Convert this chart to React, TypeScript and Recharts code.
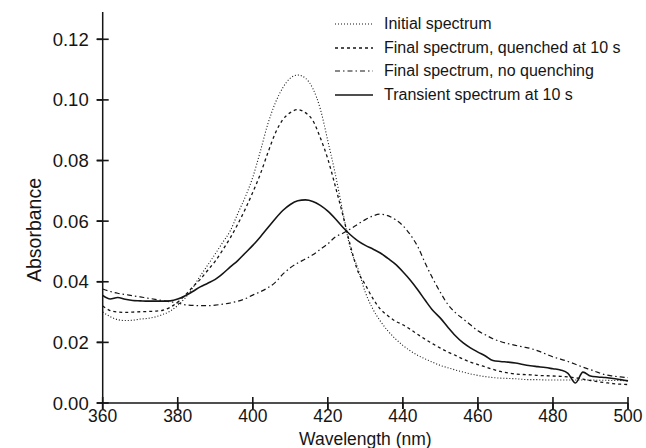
import { LineChart, Line, XAxis, YAxis, Legend } from "recharts";

const ink = "#151515";
const font = "'Liberation Sans', Arial, Helvetica, sans-serif";

// wavelength grid (nm)
const wavelengths = [
  360, 362, 364, 366, 368, 370, 372, 374, 376, 378,
  380, 382, 384, 386, 388, 390, 392, 394, 396, 398,
  400, 402, 404, 406, 408, 410, 412, 414, 416, 418,
  420, 422, 424, 426, 428, 430, 432, 434, 436, 438,
  440, 442, 444, 446, 448, 450, 452, 454, 456, 458,
  460, 462, 464, 466, 468, 470, 472, 474, 476, 478,
  480, 482, 484, 486, 488, 490, 492, 494, 496, 498,
  500,
];

const initialSpectrum = [
  0.030, 0.0285, 0.0275, 0.0272, 0.0273, 0.0277, 0.0279, 0.0284, 0.0292, 0.0303,
  0.0322, 0.0347, 0.038, 0.0419, 0.0455, 0.0492, 0.053, 0.0568, 0.0625, 0.068,
  0.0745, 0.083, 0.092, 0.099, 0.104, 0.1072, 0.1082, 0.1072, 0.1038, 0.097,
  0.0865, 0.0755, 0.063, 0.051, 0.0445, 0.0365, 0.031, 0.027, 0.0238, 0.0212,
  0.019, 0.0172, 0.0157, 0.0145, 0.0134, 0.0124, 0.0116, 0.0109, 0.0102, 0.0096,
  0.0091, 0.0087, 0.0084, 0.0082, 0.0081, 0.008, 0.0078, 0.0077, 0.0077, 0.0076,
  0.0076, 0.0076, 0.0076, 0.0076, 0.0076, 0.0076, 0.0075, 0.0075, 0.0074, 0.0074,
  0.0073,
];

const quenched10s = [
  0.032, 0.0305, 0.030, 0.0299, 0.030, 0.0301, 0.0302, 0.0303, 0.0306, 0.0316,
  0.0333, 0.0356, 0.0383, 0.0408, 0.0438, 0.0468, 0.0505, 0.0545, 0.059, 0.064,
  0.0695, 0.0755, 0.0825, 0.089, 0.0935, 0.0958, 0.0968, 0.0958, 0.0932, 0.0875,
  0.0805, 0.0715, 0.062, 0.052, 0.0435, 0.039, 0.0345, 0.031, 0.0288, 0.027,
  0.0258, 0.0243, 0.0226, 0.021, 0.0195, 0.0181, 0.0168, 0.0157, 0.0145, 0.0135,
  0.0127, 0.0119, 0.0111, 0.0104, 0.0099, 0.0096, 0.0094, 0.0093, 0.0091, 0.009,
  0.0089, 0.0088, 0.0086, 0.0083, 0.0079, 0.0074, 0.007, 0.0067, 0.0064, 0.0062,
  0.0061,
];

const noQuenching = [
  0.0376, 0.0368, 0.0362, 0.0358, 0.0354, 0.035, 0.0346, 0.0342, 0.0338, 0.0334,
  0.033, 0.0324, 0.0322, 0.0321, 0.0321, 0.0323, 0.0326, 0.033, 0.0336, 0.0344,
  0.0356, 0.0367, 0.038, 0.0398, 0.0425, 0.0446, 0.0462, 0.0475, 0.0489, 0.0507,
  0.0525, 0.0548, 0.056, 0.0574, 0.059, 0.0605, 0.0617, 0.0623, 0.0618, 0.0605,
  0.0585, 0.0555, 0.0515, 0.046, 0.041, 0.0365, 0.0325, 0.0298, 0.0278, 0.0258,
  0.0238, 0.0225, 0.0212, 0.0203, 0.0196, 0.019, 0.0185, 0.018, 0.0172, 0.0162,
  0.0152, 0.0145, 0.0137, 0.0128, 0.0118, 0.011, 0.0101, 0.0093, 0.0089, 0.0086,
  0.0084,
];

const transient10s = [
  0.0355, 0.0343, 0.0348, 0.0342, 0.0338, 0.0337, 0.0336, 0.0336, 0.0336, 0.0337,
  0.0343, 0.0354, 0.0368, 0.0383, 0.0395, 0.0408, 0.0427, 0.0449, 0.047, 0.0495,
  0.052, 0.0548, 0.0578, 0.0608, 0.0635, 0.0655, 0.0667, 0.067, 0.0665, 0.0652,
  0.0633, 0.0608, 0.058, 0.0555, 0.0535, 0.052, 0.0508, 0.0495, 0.0477, 0.0458,
  0.0433, 0.0405, 0.0373, 0.0338, 0.0305, 0.028, 0.025, 0.0222, 0.0199, 0.0182,
  0.0168, 0.0155, 0.014, 0.0137, 0.0135, 0.0132, 0.0127, 0.0123, 0.012, 0.0117,
  0.0113, 0.0109, 0.0098, 0.0066, 0.0102, 0.0089, 0.0086, 0.0084, 0.0081, 0.0077,
  0.0073,
];

const xTicks = [360, 380, 400, 420, 440, 460, 480, 500];
const yTicks = [0, 0.02, 0.04, 0.06, 0.08, 0.1, 0.12];

const seriesList = [
  { key: "initial", name: "Initial spectrum", values: initialSpectrum, dash: "1 2", width: 1.1 },
  { key: "quenched", name: "Final spectrum, quenched at 10 s", values: quenched10s, dash: "3 3", width: 1.3 },
  { key: "noQuench", name: "Final spectrum, no quenching", values: noQuenching, dash: "5 3 1.5 3", width: 1.2 },
  { key: "transient", name: "Transient spectrum at 10 s", values: transient10s, dash: undefined, width: 1.6 },
];

const data = wavelengths.map((wl, i) => {
  const row: Record<string, number> = { wl };
  seriesList.forEach((s) => (row[s.key] = s.values[i]));
  return row;
});

// tick props arrive 6px outside the axis (tickSize 6, tickMargin 0); draw the whole cross here
const XTick = ({ x, y, payload }: any) => (
  <g>
    <line x1={x} x2={x} y1={y - 12} y2={y} stroke={ink} strokeWidth={1.6} />
    <text x={x} y={y + 13} textAnchor="middle" fontSize={17.5} fontFamily={font} fill={ink}>
      {payload.value}
    </text>
  </g>
);

const YTick = ({ x, y, payload }: any) => (
  <g>
    <line x1={x} x2={x + 12} y1={y} y2={y} stroke={ink} strokeWidth={1.6} />
    <text x={x - 8} y={y + 6.5} textAnchor="end" fontSize={18.5} fontFamily={font} fill={ink}>
      {payload.value.toFixed(2)}
    </text>
  </g>
);

const YTitle = () => (
  <text
    x={34}
    y={230}
    transform="rotate(-90, 34, 230)"
    textAnchor="middle"
    dominantBaseline="central"
    fontSize={19.5}
    fontFamily={font}
    fill={ink}
  >
    Absorbance
  </text>
);

const LegendBox = () => (
  <div style={{ fontFamily: font, fontSize: 16, color: ink }}>
    {seriesList.map((s) => (
      <div key={s.key} style={{ display: "flex", alignItems: "center", height: 23.7 }}>
        <svg width={38} height={6} style={{ marginRight: 11 }}>
          <line x1={0} x2={38} y1={3} y2={3} stroke={ink} strokeWidth={s.width} strokeDasharray={s.dash} />
        </svg>
        <span style={{ whiteSpace: "nowrap" }}>{s.name}</span>
      </div>
    ))}
  </div>
);

const App = () => (
  <div style={{ position: "absolute", left: 0, top: 0, width: 646, height: 448, background: "#fff" }}>
    <LineChart width={646} height={448} data={data} margin={{ top: 12, right: 18, bottom: 4, left: 0 }}>
      <XAxis
        dataKey="wl"
        type="number"
        domain={[360, 500]}
        ticks={xTicks}
        tick={<XTick />}
        tickLine={{ stroke: ink, strokeWidth: 1.6 }}
        tickSize={6}
        tickMargin={0}
        height={41}
        axisLine={{ stroke: ink, strokeWidth: 1.5 }}
        label={{ value: "Wavelength (nm)", position: "insideBottom", offset: -0.5, fontSize: 17.5, fontFamily: font, fill: ink }}
      />
      <XAxis xAxisId="top" dataKey="wl" type="number" domain={[360, 500]} orientation="top" height={0} tick={false} tickLine={false} axisLine={{ stroke: ink, strokeWidth: 1.5 }} />
      <YAxis
        type="number"
        domain={[0, 0.129]}
        ticks={yTicks}
        tick={<YTick />}
        tickLine={{ stroke: ink, strokeWidth: 1.6 }}
        tickSize={6}
        tickMargin={0}
        width={102.7}
        axisLine={{ stroke: ink, strokeWidth: 1.5 }}
        label={{ content: <YTitle /> }}
      />
      <YAxis yAxisId="right" orientation="right" domain={[0, 0.129]} width={0} tick={false} tickLine={false} axisLine={{ stroke: ink, strokeWidth: 1.5 }} />
      <Legend
        content={<LegendBox />}
        layout="vertical"
        align="center"
        verticalAlign="middle"
        wrapperStyle={{ left: 335, top: 12, width: 300 }}
      />
      {seriesList.map((s) => (
        <Line
          key={s.key}
          dataKey={s.key}
          name={s.name}
          type="monotone"
          stroke={ink}
          strokeWidth={s.width}
          strokeDasharray={s.dash}
          dot={false}
          activeDot={false}
          isAnimationActive={false}
        />
      ))}
    </LineChart>
  </div>
);

export default App;
